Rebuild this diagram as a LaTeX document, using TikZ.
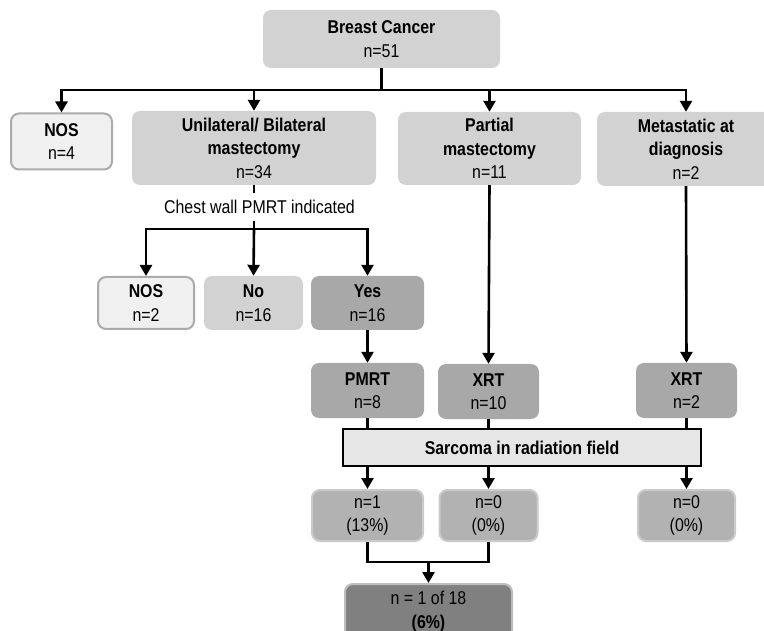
\documentclass[tikz,border=0pt]{standalone}
\usepackage{fontspec}
\setmainfont{Liberation Sans}[FakeStretch=0.86]
\usetikzlibrary{arrows.meta,calc}
\definecolor{gA}{HTML}{D2D2D2}
\definecolor{gB}{HTML}{F0F0F0}
\definecolor{gBr}{HTML}{ABABAB}
\definecolor{gC}{HTML}{A8A8A8}
\definecolor{gD}{HTML}{E6E6E6}
\definecolor{gE}{HTML}{B2B2B2}
\definecolor{gEr}{HTML}{CACACA}
\definecolor{gF}{HTML}{808080}
\definecolor{gFr}{HTML}{BDBDBD}
\tikzset{
 box/.style={rounded corners=8pt, inner sep=0pt, align=center, font=\fontsize{18.5}{23.5}\selectfont},
 light/.style={box, fill=gA},
 nos/.style={box, fill=gB, draw=gBr, line width=2pt},
 dark/.style={box, fill=gC},
 res/.style={box, fill=gE, draw=gEr, line width=2pt},
 fin/.style={box, fill=gF, draw=gFr, line width=2pt},
 sar/.style={box, rounded corners=0pt, fill=gD, draw=black, line width=2pt},
 arr/.style={line width=2.6pt, -{Triangle[length=11pt,width=12pt]}},
 ln/.style={line width=2.6pt},
 sz/.style n args={2}{minimum width=#1pt, minimum height=#2pt},
}
\begin{document}
\begin{tikzpicture}[x=1pt,y=-1pt]
\useasboundingbox (0,0) rectangle (764,631);
\clip (0,0) rectangle (764,631);
\fill[white] (0,0) rectangle (764,631);
% top
\node[light, sz={237}{58}] (BC) at (381.5,39) {\textbf{Breast Cancer}\\n=51};
\node[nos, sz={101}{56}] (NOS1) at (61.5,141.5) {\textbf{NOS}\\n=4};
\node[light, sz={244}{74}] (UB) at (254,148) {\textbf{Unilateral/ Bilateral}\\\textbf{mastectomy}\\n=34};
\node[light, sz={183}{73}] (PM) at (489.5,148.5) {\textbf{Partial}\\\textbf{mastectomy}\\n=11};
\node[light, sz={178}{74}] (MD) at (686,149) {\textbf{Metastatic at}\\\textbf{diagnosis}\\n=2};
% second row
\node[nos, sz={96}{52}] (NOS2) at (146,303) {\textbf{NOS}\\n=2};
\node[light, sz={99}{54}] (No) at (253.5,303) {\textbf{No}\\n=16};
\node[dark, sz={113}{54}] (Yes) at (367.5,303) {\textbf{Yes}\\n=16};
% radiation
\node[dark, sz={113}{55}] (PMRT) at (367.5,390.5) {\textbf{PMRT}\\n=8};
\node[dark, sz={101}{55}] (XRT1) at (488.5,391.5) {\textbf{XRT}\\n=10};
\node[dark, sz={101}{55}] (XRT2) at (686.5,390.5) {\textbf{XRT}\\n=2};
\node[sar, sz={358}{37}] (Sar) at (522,447.5) {\textbf{Sarcoma in radiation field}};
% results
\node[res, sz={111}{51}] (R1) at (367.5,515.5) {n=1\\(13\%)};
\node[res, sz={98}{51}] (R2) at (488.5,515.5) {n=0\\(0\%)};
\node[res, sz={97}{51}] (R3) at (686.5,515.5) {n=0\\(0\%)};
\node[fin, sz={167}{55}] (Fin) at (428.5,611.5) {n = 1 of 18\\\textbf{(6\%)}};
% connectors top
\draw[arr] (BC.south) -- ++(0,22) -| (NOS1.north);
\draw[arr] (BC.south) -- ++(0,22) -| (UB.north);
\draw[arr] (BC.south) -- ++(0,22) -| (PM.north);
\draw[arr] (BC.south) -- ++(0,22) -| (MD.north);
% chest wall
\draw[ln] (UB.south) -- ++(0,44) coordinate (j2);
\node[fill=white, inner sep=0pt, minimum height=28pt, font=\fontsize{18.5}{23.5}\selectfont] (CW) at (259.5,207) {Chest wall PMRT indicated};
\draw[arr] (j2) -| (NOS2.north);
\draw[arr] (j2) -- (No.north);
\draw[arr] (j2) -| (Yes.north);
% to radiation
\draw[arr] (Yes.south) -- (PMRT.north);
\draw[arr] (PM.south) -- (XRT1.north);
\draw[arr] (MD.south) -- (XRT2.north);
% into sarcoma
\draw[ln] (PMRT.south) -- (PMRT.south |- Sar.north);
\draw[ln] (XRT1.south) -- (XRT1.south |- Sar.north);
\draw[ln] (XRT2.south) -- (XRT2.south |- Sar.north);
\draw[arr] (R1.north |- Sar.south) -- (R1.north);
\draw[arr] (R2.north |- Sar.south) -- (R2.north);
\draw[arr] (R3.north |- Sar.south) -- (R3.north);
% join
\draw[ln] (R1.south) -- ++(0,20) coordinate (j3) -| (R2.south);
\draw[arr] (Fin.north |- j3) -- (Fin.north);
\end{tikzpicture}
\end{document}
